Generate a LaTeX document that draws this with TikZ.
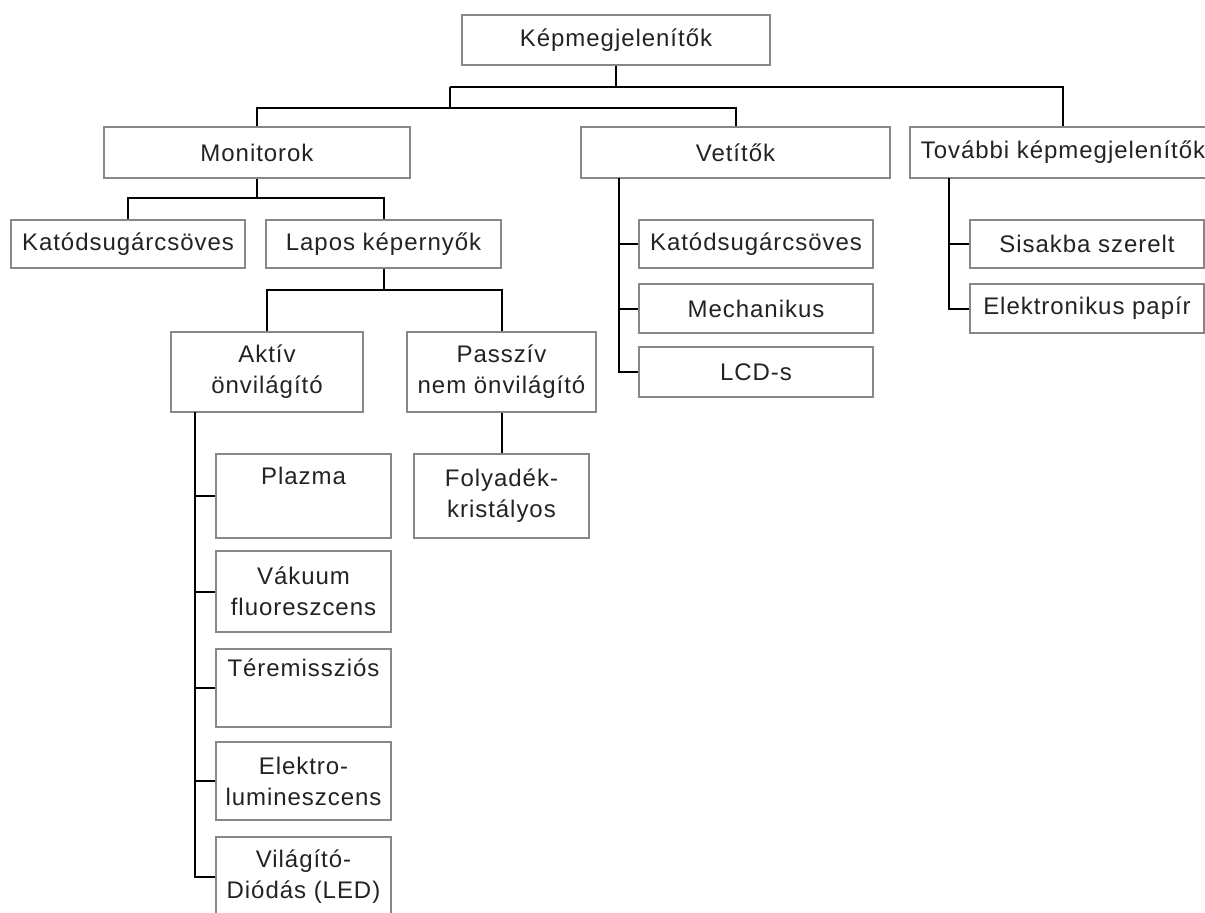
\documentclass[tikz,border=0pt]{standalone}
\usepackage{fontspec}
\setmainfont{Liberation Sans}[LetterSpace=4.0]
\definecolor{boxgray}{RGB}{135,135,135}
\definecolor{textcol}{RGB}{35,35,35}
\begin{document}
\begin{tikzpicture}[x=1pt,y=-1pt,
  box/.style={draw=boxgray, line width=1.4pt, fill=white, inner sep=0pt, align=center,
    font=\fontsize{24}{31}\selectfont, text=textcol},
  conn/.style={draw=black, line width=2pt}]
\useasboundingbox (0,0) rectangle (1205,913);
% level 0/1
\node[box, minimum width=308pt, minimum height=50pt] (root) at (616,40) {Képmegjelenítők};
\node[box, minimum width=306pt, minimum height=51pt] (mon) at (257,152.5) {Monitorok};
\node[box, minimum width=309pt, minimum height=51pt] (vet) at (735.5,152.5) {Vetítők};
\node[box, minimum width=306pt, minimum height=51pt] (tov) at (1063,152.5) {További képmegjelenítők};
% monitorok children
\node[box, minimum width=234pt, minimum height=48pt] (katm) at (128,244) {Katódsugárcsöves};
\node[box, minimum width=235pt, minimum height=48pt] (lapos) at (383.5,244) {Lapos képernyők};
\node[box, minimum width=192pt, minimum height=80pt] (aktiv) at (267,372) {Aktív\\önvilágító};
\node[box, minimum width=189pt, minimum height=80pt] (passziv) at (501.5,372) {Passzív\\nem önvilágító};
\node[box, minimum width=175pt, minimum height=84pt] (plazma) at (303.5,496) {Plazma\\\strut};
\node[box, minimum width=175pt, minimum height=81pt] (vakuum) at (303.5,591.5) {Vákuum\\fluoreszcens};
\node[box, minimum width=175pt, minimum height=78pt] (terem) at (303.5,688) {Téremissziós\\\strut};
\node[box, minimum width=175pt, minimum height=78pt] (elektro) at (303.5,781) {Elektro-\\lumineszcens};
\node[box, minimum width=175pt, minimum height=80pt] (led) at (303.5,877) {Világító-\\Diódás (LED)};
\node[box, minimum width=175pt, minimum height=84pt] (folyadek) at (501.5,496) {Folyadék-\\kristályos};
% vetitok children
\node[box, minimum width=234pt, minimum height=48pt] (vkat) at (756,244) {Katódsugárcsöves};
\node[box, minimum width=234pt, minimum height=49pt] (mech) at (756,308.5) {Mechanikus};
\node[box, minimum width=234pt, minimum height=50pt] (lcd) at (756,372) {LCD-s};
% tovabbi children
\node[box, minimum width=234pt, minimum height=48pt] (sisak) at (1087,244) {Sisakba szerelt};
\node[box, minimum width=234pt, minimum height=49pt] (epap) at (1087,308.5) {Elektronikus papír};
% bus coordinates
\coordinate (b1) at (450,87);
\coordinate (b2) at (450,108);
\coordinate (b3) at (257,198);
\coordinate (b4) at (383.5,290);
\coordinate (a0) at (195,412);
\coordinate (v0) at (619,178);
\coordinate (t0) at (948.5,178);
% connectors
\draw[conn] (root.south) |- (b1);
\draw[conn] (root.south |- b1) -| (tov.north);
\draw[conn] (b1) -- (b2);
\draw[conn] (mon.north) |- (b2) -| (vet.north);
\draw[conn] (mon.south) -- (b3);
\draw[conn] (katm.north) |- (b3) -| (lapos.north);
\draw[conn] (lapos.south) -- (b4);
\draw[conn] (aktiv.north) |- (b4) -| (passziv.north);
\draw[conn] (passziv.south) -- (folyadek.north);
\draw[conn] (a0) |- (led.west);
\draw[conn] (a0 |- plazma.west) -- (plazma.west);
\draw[conn] (a0 |- vakuum.west) -- (vakuum.west);
\draw[conn] (a0 |- terem.west) -- (terem.west);
\draw[conn] (a0 |- elektro.west) -- (elektro.west);
\draw[conn] (v0) |- (lcd.west);
\draw[conn] (v0 |- vkat.west) -- (vkat.west);
\draw[conn] (v0 |- mech.west) -- (mech.west);
\draw[conn] (t0) |- (epap.west);
\draw[conn] (t0 |- sisak.west) -- (sisak.west);
\end{tikzpicture}
\end{document}
